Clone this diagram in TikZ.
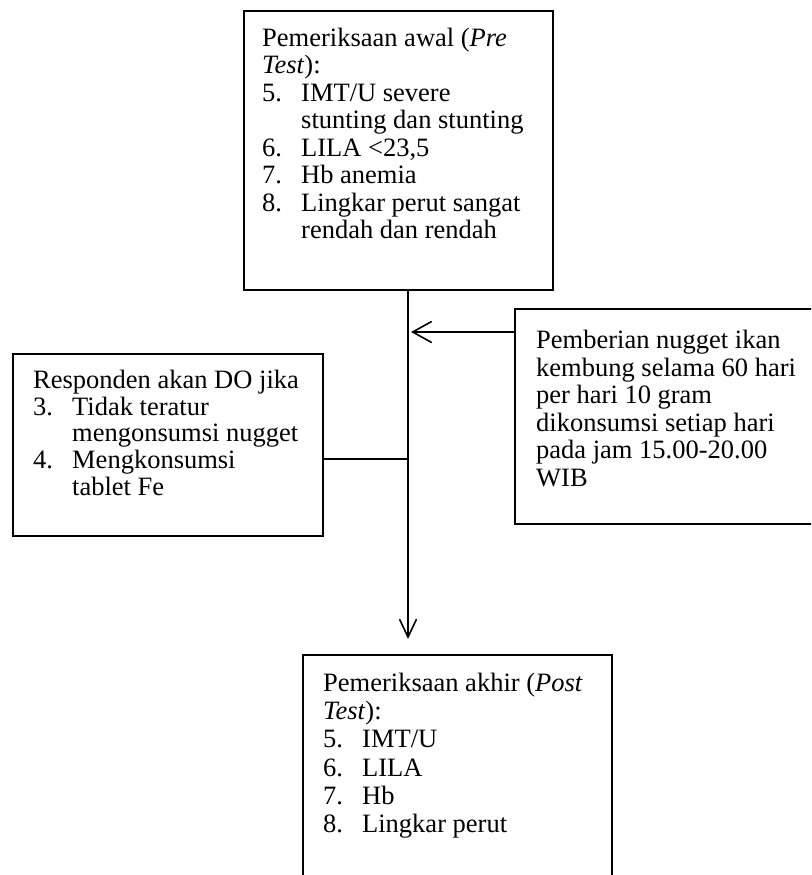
\documentclass[tikz,border=0pt]{standalone}
\usepackage{fontspec}
\setmainfont{Liberation Serif}
\usetikzlibrary{arrows.meta}
\begin{document}
\begin{tikzpicture}[x=1pt,y=-1pt,
  box/.style={draw=black, line width=1.6pt, rectangle, inner sep=0pt, anchor=north west},
  txt/.style={anchor=north west, inner sep=0pt, align=left, font=\fontsize{26.5}{27.5}\selectfont},
  conn/.style={line width=1.6pt},
  arr/.style={line width=1.6pt, -{Straight Barb[length=19pt,width=21pt,line width=1.6pt]}}]
\useasboundingbox (0,0) rectangle (811,875);
\clip (0,0) rectangle (811,875);
\newcommand{\mynumb}[1]{\makebox[39pt][l]{#1}}
\newcommand{\myhang}{\hspace*{39pt}}
\newcommand{\mystrut}{\rule{0pt}{18pt}}
% boxes
\node[box, minimum width=309pt, minimum height=279pt] (pre) at (243,10) {};
\node[box, minimum width=316pt, minimum height=215pt] (give) at (514,308) {};
\node[box, minimum width=310pt, minimum height=182pt] (do) at (12,353) {};
\node[box, minimum width=309pt, minimum height=246pt] (post) at (302,654) {};
% texts
\node[txt] (pretxt) at (262,27.7) {\mystrut Pemeriksaan awal (\textit{Pre}\\
\textit{Test}):\\
\mynumb{5.}IMT/U severe\\
\myhang stunting dan stunting\\
\mynumb{6.}LILA <23,5\\
\mynumb{7.}Hb anemia\\
\mynumb{8.}Lingkar perut sangat\\
\myhang rendah dan rendah};
\node[txt] (givetxt) at (536,330) {\mystrut Pemberian nugget ikan\\
kembung selama 60 hari\\
per hari 10 gram\\
dikonsumsi setiap hari\\
pada jam 15.00-20.00\\
WIB};
\node[txt, font=\fontsize{26.5}{26.8}\selectfont] (dotxt) at (33,369.7) {\mystrut Responden akan DO jika\\
\mynumb{3.}Tidak teratur\\
\myhang mengonsumsi nugget\\
\mynumb{4.}Mengkonsumsi\\
\myhang tablet Fe};
\node[txt, font=\fontsize{26.5}{28.2}\selectfont] (posttxt) at (323,673) {\mystrut Pemeriksaan akhir (\textit{Post}\\
\textit{Test}):\\
\mynumb{5.}IMT/U\\
\mynumb{6.}LILA\\
\mynumb{7.}Hb\\
\mynumb{8.}Lingkar perut};
% connectors
\coordinate (sp) at (408,0);
\coordinate (ga) at ([yshift=-24pt]give.north west);
\coordinate (da) at ([yshift=-106pt]do.north east);
\draw[line width=1.6pt, -{Straight Barb[length=18pt,width=17pt,line width=1.6pt]}] (pre.south -| sp) -- ([yshift=15pt]post.north -| sp);
\draw[arr] (ga) -- ([xshift=3pt]ga -| sp);
\draw[conn] (da) -- (da -| sp);
\end{tikzpicture}
\end{document}
